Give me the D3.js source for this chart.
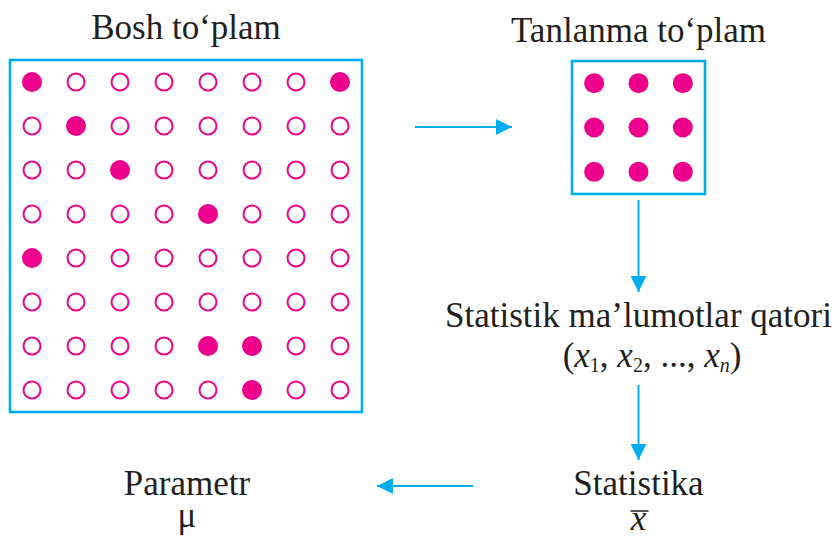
<!DOCTYPE html>
<html>
<head>
<meta charset="UTF-8">
<script src="https://d3js.org/d3.v7.min.js"></script>
</head>
<body style="margin:0">
<svg width="837" height="536"></svg>
<script>
// population grid 8x8, picked units are filled
const popRows = d3.range(8);
const popCols = d3.range(8);
const picked = [[0, 0], [0, 7], [1, 1], [2, 2], [3, 4], [4, 0], [6, 4], [6, 5], [7, 5]];
// sample grid 3x3, all filled
const sampleRows = d3.range(3);
const sampleCols = d3.range(3);

const pink = '#ec008c';
const blue = '#00aeef';
const ink = '#231f20';
const fs = 35;
const fam = 'Liberation Serif, DejaVu Serif, serif';

const svg = d3.select('svg');

// arrow head marker
svg.append('defs').append('marker')
  .attr('id', 'head')
  .attr('viewBox', '0 0 10 10')
  .attr('refX', 10).attr('refY', 5)
  .attr('markerUnits', 'userSpaceOnUse')
  .attr('markerWidth', 16).attr('markerHeight', 16)
  .attr('orient', 'auto')
  .append('path')
  .attr('d', 'M0,0 L10,5 L0,10 Z')
  .attr('fill', blue);

// big box
const px = d3.scaleBand().domain(popCols).range([10, 362]);
const py = d3.scaleBand().domain(popRows).range([60, 412]);

svg.append('rect')
  .attr('x', px.range()[0]).attr('y', py.range()[0])
  .attr('width', px.range()[1] - px.range()[0])
  .attr('height', py.range()[1] - py.range()[0])
  .attr('fill', 'none').attr('stroke', blue).attr('stroke-width', 2.6);

const isPicked = (r, c) => picked.some(p => p[0] === r && p[1] === c);
const cells = popRows.flatMap(r => popCols.map(c => ({ r, c, on: isPicked(r, c) })));

svg.append('g').selectAll('circle').data(cells).enter().append('circle')
  .attr('cx', d => px(d.c) + px.bandwidth() / 2)
  .attr('cy', d => py(d.r) + py.bandwidth() / 2)
  .attr('r', d => d.on ? 10 : 8.5)
  .attr('fill', d => d.on ? pink : 'none')
  .attr('stroke', d => d.on ? 'none' : pink)
  .attr('stroke-width', 2);

// small box
const sx = d3.scaleBand().domain(sampleCols).range([572, 705]);
const sy = d3.scaleBand().domain(sampleRows).range([61, 194]);

svg.append('rect')
  .attr('x', sx.range()[0]).attr('y', sy.range()[0])
  .attr('width', sx.range()[1] - sx.range()[0])
  .attr('height', sy.range()[1] - sy.range()[0])
  .attr('fill', 'none').attr('stroke', blue).attr('stroke-width', 2.6);

const sCells = sampleRows.flatMap(r => sampleCols.map(c => ({ r, c })));
svg.append('g').selectAll('circle').data(sCells).enter().append('circle')
  .attr('cx', d => sx(d.c) + sx.bandwidth() / 2)
  .attr('cy', d => sy(d.r) + sy.bandwidth() / 2)
  .attr('r', 10)
  .attr('fill', pink);

const midX = (sx.range()[0] + sx.range()[1]) / 2;
const bigMid = (px.range()[0] + px.range()[1]) / 2;

// plain labels
const labels = [
  { x: bigMid, y: 39, t: 'Bosh to‘plam' },
  { x: midX, y: 42, t: 'Tanlanma to‘plam' },
  { x: midX, y: 327, t: 'Statistik ma’lumotlar qatori' },
  { x: midX, y: 495, t: 'Statistika' },
  { x: 187, y: 495, t: 'Parametr' },
  { x: 187, y: 527, t: 'μ' },
  { x: midX, y: 530, t: 'x', it: true }
];
svg.selectAll('text.lab').data(labels).enter().append('text')
  .attr('class', 'lab')
  .attr('x', d => d.x).attr('y', d => d.y)
  .attr('text-anchor', 'middle')
  .attr('font-family', fam)
  .style('font-family', fam)
  .style('font-style', d => d.it ? 'italic' : 'normal')
  .attr('font-size', fs)
  .attr('fill', ink)
  .text(d => d.t);

// (x1, x2, ..., xn)
const seq = svg.append('text')
  .attr('x', 652).attr('y', 367)
  .attr('text-anchor', 'middle')
  .attr('font-family', fam)
  .style('font-family', fam)
  .attr('font-size', fs)
  .attr('fill', ink);
const subs = ['1', '2', null, 'n'];
seq.append('tspan').text('(');
subs.forEach((s, i) => {
  if (s === null) {
    seq.append('tspan').text('..., ');
    return;
  }
  seq.append('tspan').style('font-style', 'italic').text('x');
  seq.append('tspan').attr('font-size', 20).attr('dy', 5)
    .style('font-style', s === 'n' ? 'italic' : 'normal').text(s);
  seq.append('tspan').attr('dy', -5).text(i < subs.length - 1 ? ', ' : ')');
});

// bar over x
svg.append('line')
  .attr('x1', midX - 8).attr('x2', midX + 10)
  .attr('y1', 511).attr('y2', 511)
  .attr('stroke', ink).attr('stroke-width', 1.5);

// arrows
const arrows = [
  { x1: 415, y1: 127, x2: 512, y2: 127 },
  { x1: midX, y1: 200, x2: midX, y2: 292 },
  { x1: midX, y1: 385, x2: midX, y2: 460 },
  { x1: 473, y1: 486, x2: 377, y2: 486 }
];
svg.append('g').selectAll('line').data(arrows).enter().append('line')
  .attr('x1', d => d.x1).attr('y1', d => d.y1)
  .attr('x2', d => d.x2).attr('y2', d => d.y2)
  .attr('stroke', blue).attr('stroke-width', 2)
  .attr('marker-end', 'url(#head)');
</script>
</body>
</html>
